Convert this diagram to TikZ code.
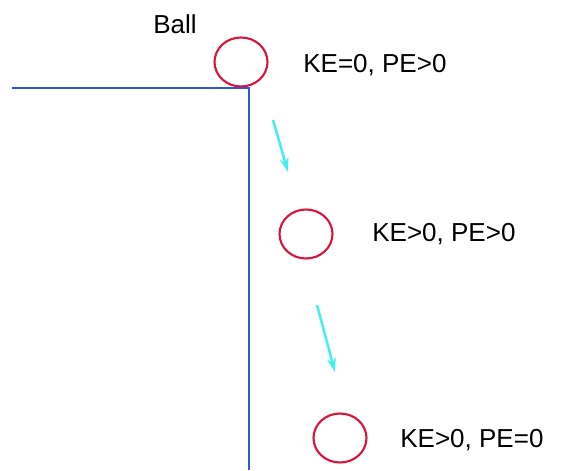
\documentclass[tikz,border=0pt]{standalone}
\usepackage{fontspec}
\setmainfont{Liberation Sans}
\usetikzlibrary{shapes.geometric,arrows.meta}
\definecolor{ballred}{RGB}{220,20,60}
\definecolor{wallblue}{RGB}{45,85,230}
\definecolor{fallcyan}{RGB}{64,240,240}
\tikzset{
  ball/.style={draw=ballred, ellipse, line width=1.2pt, inner sep=0pt, minimum width=1.06cm, minimum height=0.98cm},
  energy/.style={anchor=west, inner sep=0pt, font=\fontsize{14.8}{17}\selectfont}
}
\begin{document}
\begin{tikzpicture}
   \useasboundingbox (0,0) rectangle (11.58,9.4);

   %Cliff
   \draw[wallblue, line width=1.3pt] (0.24,7.64) -- (4.98,7.64) -- (4.98,0);

   \node[font=\fontsize{14.8}{17}\selectfont] at (3.5, 8.92)  (lbl)    {Ball};

   \node[ball] at (4.82, 8.16)  (b1) {};
   \node[ball] at (6.12, 4.72)  (b2) {};
   \node[ball] at (6.80, 0.64)  (b3) {};

   \node[energy] at (6.06, 8.1)  (e1)  {KE=0, PE>0};
   \node[energy] at (7.44, 4.72) (e2)  {KE>0, PE>0};
   \node[energy] at (8.0, 0.6)   (e3)  {KE>0, PE=0};

   %Fall arrows
   \coordinate (f1s) at (5.46, 7.0);
   \coordinate (f1e) at (5.76, 5.96);
   \coordinate (f2s) at (6.34, 3.3);
   \coordinate (f2e) at (6.70, 1.96);
   \draw [line width=1.4pt,-{Stealth[length=8pt,width=5pt]}, fallcyan]  (f1s)to(f1e);
   \draw [line width=1.4pt,-{Stealth[length=8pt,width=5pt]}, fallcyan]  (f2s)to(f2e);

\end{tikzpicture}
\end{document}
